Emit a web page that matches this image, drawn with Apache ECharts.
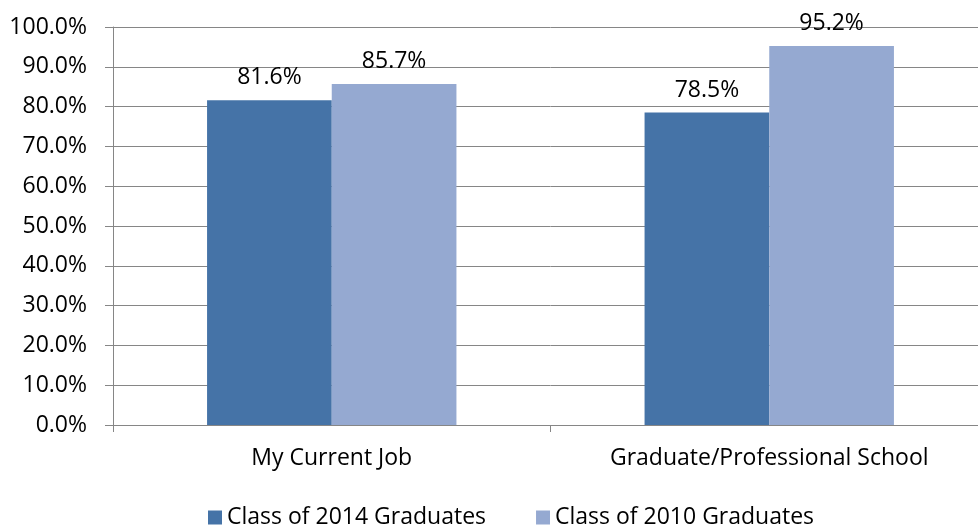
<!DOCTYPE html>
<html>
<head>
<meta charset="utf-8" />
<title>chart</title>
<script src="https://cdn.jsdelivr.net/npm/echarts@6/dist/echarts.min.js"></script>
<style>
html, body { margin: 0; padding: 0; background: #fff; overflow: hidden; }
#main { width: 988px; height: 529px; }
</style>
</head>
<body>
<div id="main"></div>
<script type="text/javascript">
var categories = ['My Current Job', 'Graduate/Professional School'];
var seriesNames = ['Class of 2014 Graduates', 'Class of 2010 Graduates'];
var class2014 = [81.6, 78.5];
var class2010 = [85.7, 95.2];

var font = '"Open Sans", "Noto Sans", sans-serif';
var gray = '#868686';
var fs = 23;

var myChart = echarts.init(document.getElementById('main'));
var labelOpt = {
	show: true,
	position: 'top',
	distance: 11,
	color: '#000',
	fontFamily: font,
	fontSize: fs,
	formatter: function (p) { return p.value.toFixed(1) + '%'; }
};
var option = {
	animation: false,
	textStyle: { fontFamily: font },
	grid: { left: 113, right: 0, top: 27, height: 398, containLabel: false },
	legend: {
		top: 501,
		left: 203,
		itemWidth: 14,
		itemHeight: 14,
		itemGap: 50,
		icon: 'rect',
		textStyle: { color: '#000', fontSize: fs, fontFamily: font },
		data: seriesNames
	},
	xAxis: {
		type: 'category',
		data: categories,
		axisLine: { lineStyle: { color: gray, width: 1 } },
		axisTick: { show: true, length: 7, lineStyle: { color: gray } },
		axisLabel: { color: '#000', fontSize: fs, fontFamily: font, margin: 22 }
	},
	yAxis: {
		type: 'value',
		min: 0,
		max: 100,
		interval: 10,
		axisLine: { show: true, lineStyle: { color: gray, width: 1 } },
		axisTick: { show: true, length: 8, lineStyle: { color: gray } },
		splitLine: { lineStyle: { color: gray, width: 1 } },
		axisLabel: {
			color: '#000', fontSize: fs, fontFamily: font, margin: 26,
			formatter: function (v) { return v.toFixed(1) + '%'; }
		}
	},
	series: [
		{
			name: seriesNames[0],
			type: 'bar',
			data: class2014,
			barGap: '0%',
			barCategoryGap: '43%',
			itemStyle: { color: '#4573A7' },
			label: labelOpt
		},
		{
			name: seriesNames[1],
			type: 'bar',
			data: class2010,
			itemStyle: { color: '#95A9D1' },
			label: labelOpt
		}
	]
};
myChart.setOption(option);
</script>
</body>
</html>
